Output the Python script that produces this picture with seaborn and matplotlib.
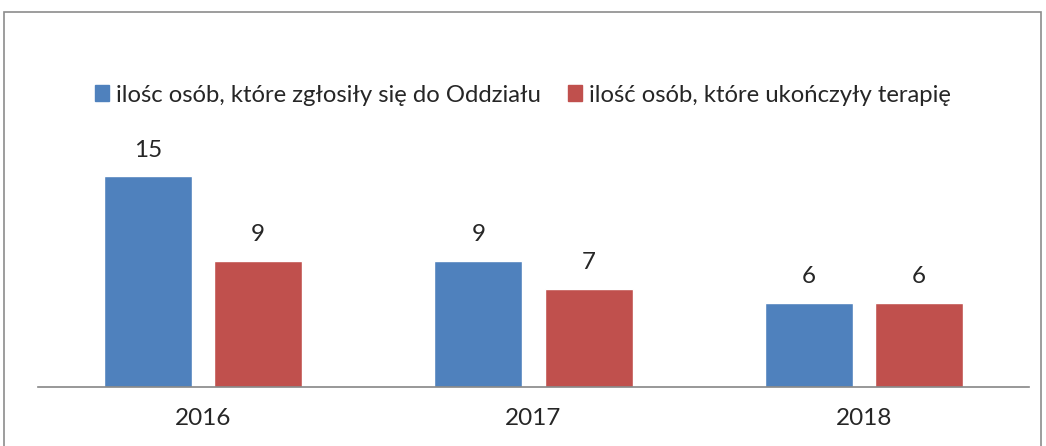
import matplotlib
matplotlib.use("Agg")
import matplotlib.pyplot as plt
import seaborn as sns
import pandas as pd
from matplotlib.patches import Rectangle

# =============================
# DATA
# =============================
years = ["2016", "2017", "2018"]
zgloszone = [15, 9, 6]
ukonczone = [9, 7, 6]
series_names = ["ilośc osób, które zgłosiły się do Oddziału",
                "ilość osób, które ukończyły terapię"]
colors = ["#4F81BD", "#C0504D"]

df = pd.DataFrame({
    "rok": years * 2,
    "liczba": zgloszone + ukonczone,
    "seria": [series_names[0]] * 3 + [series_names[1]] * 3,
})

# =============================
# PLOT
# =============================
sns.set_style("white")
plt.rcParams["font.family"] = ["Lato", "DejaVu Sans"]

W, H = 1046, 446
fig = plt.figure(figsize=(W / 100, H / 100), dpi=100)
ax = fig.add_axes([38 / W, (H - 387) / H, (1029 - 38) / W, (387 - 134) / H])

sns.barplot(data=df, x="rok", y="liczba", hue="seria", palette=colors,
            width=0.667, gap=0.2, saturation=1, ax=ax, legend=False)

ax.set_ylim(0, 18)
ax.set_xlim(-0.5, 2.5)
for c in ax.containers:
    ax.bar_label(c, padding=11, fontsize=17.5)

ax.set_xlabel("")
ax.set_ylabel("")
ax.set_yticks([])
ax.tick_params(axis="x", length=0, labelsize=17.5, pad=15)
for s in ["top", "right", "left"]:
    ax.spines[s].set_visible(False)
ax.spines["bottom"].set_color("#868686")
ax.spines["bottom"].set_linewidth(1.2)

handles = [Rectangle((0, 0), 1, 1, color=col) for col in colors]
fig.legend(handles, series_names, loc="center", bbox_to_anchor=(0.5, 1 - 95 / H),
           ncol=2, frameon=False, fontsize=17.2, handlelength=0.6, handleheight=0.6,
           handletextpad=0.3, columnspacing=1.1)

# chart frame
fig.patches.append(Rectangle((4 / W, -0.1), (1041 - 4) / W, 1.1 - 12 / H,
                             transform=fig.transFigure, fill=False,
                             edgecolor="#8c8c8c", linewidth=1.2))

plt.savefig("out.png", dpi=100)
plt.close()
